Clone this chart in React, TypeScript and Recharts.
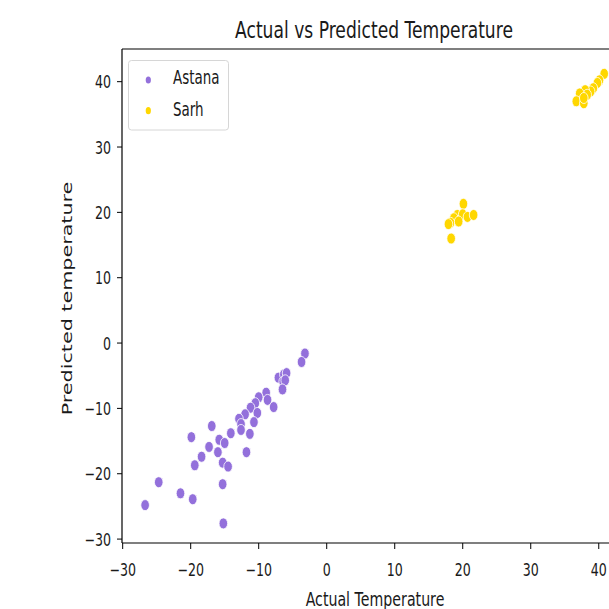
import React from "react";
import { ScatterChart, Scatter, XAxis, YAxis, ReferenceLine } from "recharts";

const astanaActual = [
  -3.2, -3.7, -7.1, -6.3, -5.9, -6.4, -6.1, -6.5, -8.9, -8.7, -7.8, -10.0, -10.5, -11.2,
  -10.2, -12.0, -10.7, -12.9, -12.6, -12.6, -11.3, -14.1, -16.9, -15.8, -15.0, -19.9,
  -17.3, -16.0, -11.8, -18.4, -19.4, -15.3, -14.5, -24.7, -21.5, -19.7, -15.3, -26.7, -15.2,
];
const astanaPredicted = [
  -1.6, -2.9, -5.3, -4.8, -4.6, -5.9, -5.7, -7.1, -7.6, -8.7, -9.8, -8.3, -9.2, -9.9,
  -10.7, -10.9, -12.1, -11.6, -12.4, -13.3, -13.9, -13.8, -12.7, -14.8, -15.3, -14.4,
  -15.9, -16.7, -16.7, -17.4, -18.7, -18.3, -18.9, -21.3, -23.0, -23.9, -21.6, -24.8, -27.6,
];
const sarhActual = [
  20.1, 19.2, 20.0, 20.7, 21.6, 18.7, 18.2, 17.9, 19.4, 18.3,
  40.8, 40.1, 39.8, 39.2, 38.8, 38.0, 38.3, 37.2, 36.7, 37.8, 37.8,
];
const sarhPredicted = [
  21.3, 19.6, 19.7, 19.3, 19.6, 19.1, 18.4, 18.2, 18.6, 16.0,
  41.2, 40.2, 39.8, 39.0, 38.5, 38.7, 38.0, 38.2, 37.0, 36.7, 37.5,
];
const xTicks = [-30, -20, -10, 0, 10, 20, 30, 40];
const yTicks = [-30, -20, -10, 0, 10, 20, 30, 40];
const seriesNames = ["Astana", "Sarh"];
const seriesColors = ["#9370DB", "#FFD700"];

const astanaData = astanaActual.map((x, i) => ({ x, y: astanaPredicted[i] }));
const sarhData = sarhActual.map((x, i) => ({ x, y: sarhPredicted[i] }));

const FONT = "'DejaVu Sans', sans-serif";
const SX = 0.72;

const XTick = (props: any) => {
  const { x, y, payload } = props;
  return (
    <g transform={`translate(${x},${y})`}>
      <text transform={`scale(${SX},1)`} x={0} y={25} textAnchor="middle" fontFamily={FONT} fontSize={17.5} fill="#1a1a1a">
        {String(payload.value).replace("-", "\u2212")}
      </text>
    </g>
  );
};

const YTick = (props: any) => {
  const { x, y, payload } = props;
  return (
    <g transform={`translate(${x},${y})`}>
      <text transform={`scale(${SX},1)`} x={0} y={6.5} textAnchor="end" fontFamily={FONT} fontSize={17.5} fill="#1a1a1a">
        {String(payload.value).replace("-", "\u2212")}
      </text>
    </g>
  );
};

const makeShape = (color: string) => (props: any) => (
  <ellipse cx={props.cx} cy={props.cy} rx={4.3} ry={5.5} fill={color} stroke="#ffffff" strokeWidth={0.8} />
);

export default function App() {
  return (
    <div style={{ position: "absolute", left: 0, top: 0, width: 609, height: 609, overflow: "hidden", background: "#fff" }}>
      <ScatterChart width={660} height={609} margin={{ top: 49, right: 32, left: 0, bottom: 0 }}>
        <XAxis
          type="number"
          dataKey="x"
          domain={[-30.1, 44.3]}
          ticks={xTicks}
          allowDataOverflow
          height={66}
          tickSize={6}
          tickMargin={2}
          stroke="#000"
          axisLine={{ stroke: "#000", strokeWidth: 1.2 }}
          tickLine={{ stroke: "#000" }}
          tick={<XTick />}
        />
        <YAxis
          type="number"
          dataKey="y"
          domain={[-30.6, 45]}
          ticks={yTicks}
          allowDataOverflow
          width={122}
          tickSize={5}
          tickMargin={6}
          stroke="#000"
          axisLine={{ stroke: "#000", strokeWidth: 1.2 }}
          tickLine={{ stroke: "#000" }}
          tick={<YTick />}
        />
        <ReferenceLine y={45} stroke="#000" strokeWidth={1.2} ifOverflow="visible" />
        <Scatter name={seriesNames[0]} data={astanaData} fill={seriesColors[0]} shape={makeShape(seriesColors[0])} isAnimationActive={false} />
        <Scatter name={seriesNames[1]} data={sarhData} fill={seriesColors[1]} shape={makeShape(seriesColors[1])} isAnimationActive={false} />
      </ScatterChart>
      <svg width={609} height={609} style={{ position: "absolute", left: 0, top: 0, pointerEvents: "none" }}>
        <g transform="translate(374,37.5)">
          <text transform={`scale(${SX},1)`} textAnchor="middle" fontFamily={FONT} fontSize={23.8} fill="#1a1a1a">
            Actual vs Predicted Temperature
          </text>
        </g>
        <g transform="translate(375,605.5)">
          <text transform={`scale(${SX},1)`} textAnchor="middle" fontFamily={FONT} fontSize={19.7} fill="#1a1a1a">
            Actual Temperature
          </text>
        </g>
        <g transform="translate(72,298.5)">
          <text transform={`scale(${SX},1) rotate(-90)`} textAnchor="middle" fontFamily={FONT} fontSize={20.7} fill="#1a1a1a">
            Predicted temperature
          </text>
        </g>
        <rect x={128.5} y={60.5} width={100} height={69.5} rx={3} fill="#fff" fillOpacity={0.8} stroke="#d6d6d6" strokeWidth={1} />
        {seriesNames.map((name, i) => (
          <g key={name}>
            <ellipse cx={148.3} cy={80 + i * 30.7} rx={2.6} ry={3.6} fill={seriesColors[i]} />
            <g transform={`translate(173,${84 + i * 32})`}>
              <text transform={`scale(${SX},1)`} fontFamily={FONT} fontSize={18.7} fill="#1a1a1a">
                {name}
              </text>
            </g>
          </g>
        ))}
      </svg>
    </div>
  );
}
